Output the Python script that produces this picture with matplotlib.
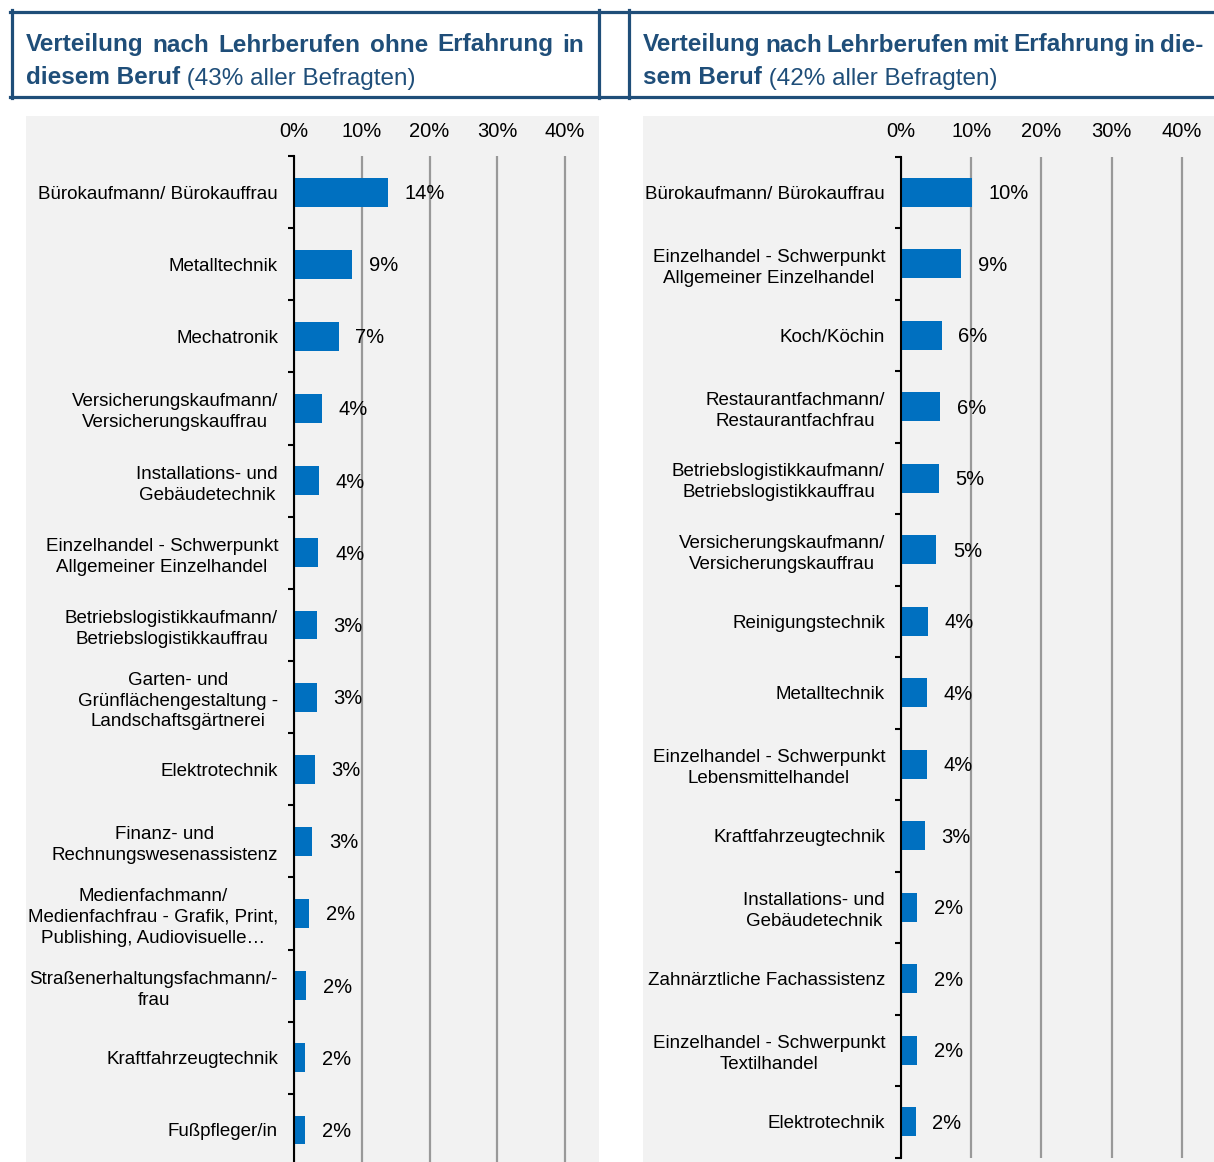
import matplotlib
matplotlib.use('Agg')
import matplotlib.pyplot as plt
from matplotlib.patches import Rectangle
from matplotlib.lines import Line2D

plt.rcParams['font.family'] = ['Liberation Sans', 'DejaVu Sans']

# ---------------- data ----------------
left_categories = [
    "Bürokaufmann/ Bürokauffrau",
    "Metalltechnik",
    "Mechatronik",
    "Versicherungskaufmann/\nVersicherungskauffrau",
    "Installations- und\nGebäudetechnik",
    "Einzelhandel - Schwerpunkt\nAllgemeiner Einzelhandel",
    "Betriebslogistikkaufmann/\nBetriebslogistikkauffrau",
    "Garten- und\nGrünflächengestaltung -\nLandschaftsgärtnerei",
    "Elektrotechnik",
    "Finanz- und\nRechnungswesenassistenz",
    "Medienfachmann/\nMedienfachfrau - Grafik, Print,\nPublishing, Audiovisuelle…",
    "Straßenerhaltungsfachmann/-\nfrau",
    "Kraftfahrzeugtechnik",
    "Fußpfleger/in",
]
left_values = [13.9, 8.6, 6.6, 4.1, 3.7, 3.6, 3.4, 3.4, 3.1, 2.7, 2.2, 1.8, 1.6, 1.6]

right_categories = [
    "Bürokaufmann/ Bürokauffrau",
    "Einzelhandel - Schwerpunkt\nAllgemeiner Einzelhandel",
    "Koch/Köchin",
    "Restaurantfachmann/\nRestaurantfachfrau",
    "Betriebslogistikkaufmann/\nBetriebslogistikkauffrau",
    "Versicherungskaufmann/\nVersicherungskauffrau",
    "Reinigungstechnik",
    "Metalltechnik",
    "Einzelhandel - Schwerpunkt\nLebensmittelhandel",
    "Kraftfahrzeugtechnik",
    "Installations- und\nGebäudetechnik",
    "Zahnärztliche Fachassistenz",
    "Einzelhandel - Schwerpunkt\nTextilhandel",
    "Elektrotechnik",
]
right_values = [10.1, 8.6, 5.8, 5.6, 5.4, 5.0, 3.8, 3.7, 3.7, 3.4, 2.3, 2.3, 2.3, 2.1]

x_ticks = [0, 10, 20, 30, 40]
x_ticklabels = ["0%", "10%", "20%", "30%", "40%"]

left_title_line1 = "Verteilung nach Lehrberufen ohne Erfahrung in"
left_title_bold2 = "diesem Beruf"
left_title_reg2 = " (43% aller Befragten)"
right_title_line1 = "Verteilung nach Lehrberufen mit Erfahrung in die-"
right_title_bold2 = "sem Beruf"
right_title_reg2 = " (42% aller Befragten)"

# ---------------- styling ----------------
W, H = 1214, 1162
BLUE = '#0070C0'
NAVY = '#1F4E79'
BG = '#F2F2F2'
GRID = '#999999'
FS_CAT = 13.5
FS_NUM = 14.5

fig = plt.figure(figsize=(W / 100, H / 100), dpi=100)


def fx(x):
    return x / W


def fy(y):
    return 1 - y / H


# gray panels
for x0, x1 in [(26, 599), (643, 1214)]:
    fig.patches.append(Rectangle((fx(x0), fy(1162)), fx(x1) - fx(x0), fy(116) - fy(1162),
                                 transform=fig.transFigure, facecolor=BG, edgecolor='none', zorder=-5))

# header borders
lw = 2.3
fig.add_artist(Line2D([fx(10), fx(1214)], [fy(11.5), fy(11.5)], color=NAVY, lw=lw))
fig.add_artist(Line2D([fx(10), fx(1214)], [fy(96.5), fy(96.5)], color=NAVY, lw=lw))
for xv in [11.5, 599, 628.5]:
    fig.add_artist(Line2D([fx(xv), fx(xv)], [fy(10), fy(98)], color=NAVY, lw=lw))

renderer = fig.canvas.get_renderer()
TFS = 17.5


def justified(text, x0, x1, y):
    words = text.split(' ')
    objs = [fig.text(fx(x0), fy(y), w, fontsize=TFS, fontweight='bold', color=NAVY,
                     ha='left', va='baseline') for w in words]
    widths = [o.get_window_extent(renderer).width for o in objs]
    gap = (x1 - x0 - sum(widths)) / (len(words) - 1)
    cur = x0
    for o, wd in zip(objs, widths):
        o.set_x(fx(cur))
        cur += wd + gap


def mixed(bold, reg, x0, y):
    t = fig.text(fx(x0), fy(y), bold, fontsize=TFS, fontweight='bold', color=NAVY,
                 ha='left', va='baseline')
    wd = t.get_window_extent(renderer).width
    fig.text(fx(x0 + wd), fy(y), reg, fontsize=TFS, color=NAVY, ha='left', va='baseline')


justified(left_title_line1, 26, 584, 51.5)
mixed(left_title_bold2, left_title_reg2, 26, 84.5)
justified(right_title_line1, 643, 1203, 51.5)
mixed(right_title_bold2, right_title_reg2, 643, 84.5)


def panel(x0px, pxper, top, bottom, cats, vals):
    ax = fig.add_axes([fx(x0px), fy(bottom), 45 * pxper / W, (bottom - top) / H])
    ax.set_facecolor('none')
    n = len(cats)
    ys = list(range(n))
    ax.barh(ys, vals, height=0.4, color=BLUE, zorder=3)
    ax.set_xlim(0, 45)
    ax.set_ylim(n - 0.5, -0.5)
    ax.set_xticks(x_ticks)
    ax.set_xticklabels(x_ticklabels, fontsize=FS_NUM)
    ax.xaxis.tick_top()
    ax.tick_params(axis='x', length=0, pad=11)
    ax.set_yticks(ys)
    ax.set_yticklabels(cats, fontsize=FS_CAT, multialignment='center', linespacing=1.3)
    ax.set_yticks([i - 0.5 for i in range(n + 1)], minor=True)
    ax.tick_params(axis='y', which='major', length=0, pad=11.5)
    ax.tick_params(axis='y', which='minor', length=4, width=1.5, direction='out', color='black')
    ax.grid(axis='x', color=GRID, lw=1.6, zorder=1)
    ax.set_axisbelow(True)
    for s in ['top', 'right', 'bottom']:
        ax.spines[s].set_visible(False)
    ax.spines['left'].set_linewidth(1.5)
    ax.spines['left'].set_color('black')
    ax.spines['left'].set_zorder(4)
    for i, v in enumerate(vals):
        ax.annotate(f"{v:.0f}%", (v, i), xytext=(12, -1), textcoords='offset points',
                    va='center', ha='left', fontsize=FS_NUM, zorder=5)
    return ax


panel(294, 6.775, 156, 1166, left_categories, left_values)
panel(901, 7.02, 156.5, 1157.5, right_categories, right_values)

fig.savefig('out.png', dpi=100)
